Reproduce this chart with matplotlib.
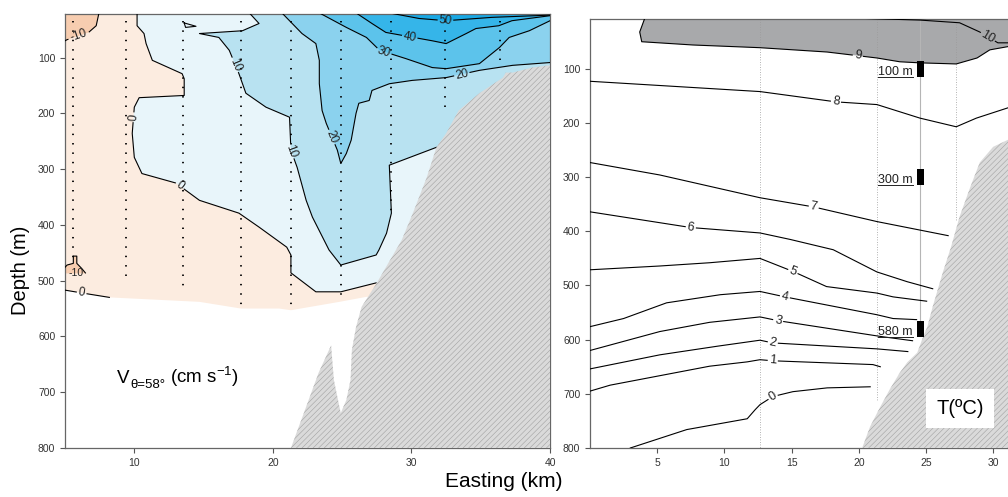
import numpy as np
import matplotlib.pyplot as plt
from matplotlib.patches import Rectangle
from matplotlib.lines import Line2D
from matplotlib.transforms import IdentityTransform

plt.rcParams['font.family'] = ['Liberation Sans', 'DejaVu Sans']
plt.rcParams['mathtext.default'] = 'regular'
plt.rcParams['hatch.linewidth'] = 0.35

# ---------------- left section: velocity (cm/s), easting km / depth m ----------------
# colored data area: lower edge of the sampled field
base_x = [5.0, 8.2, 14.7, 17.7, 20.45, 21.3, 24.8, 26.75]
base_d = [517, 530, 538, 550, 550, 553, 538, 529]

# isotach polylines
m10_top_x = [7.45, 7.25, 6.7, 5.15, 5.0]
m10_top_d = [20, 43, 55, 68, 70]
m10_blob_x = [5.0, 5.15, 5.6, 5.6, 5.85, 5.85, 6.2, 6.5, 5.8, 5.0]
m10_blob_d = [476, 472, 469, 456, 456, 469, 478, 487, 487, 487]
z0_x = [10.2, 10.2, 10.7, 10.85, 11.3, 13.45, 13.6, 13.6, 10.35, 10.0, 9.85, 10.0,
        10.55, 13.0, 14.7, 17.55, 19.0, 21.0, 21.3, 21.3, 23.1, 24.9, 27.45]
z0_d = [20, 43, 57, 75, 105, 129, 138, 168, 172, 189, 236, 279,
        308, 325, 356, 379, 404, 440, 454, 486, 520, 520, 504]
z0_bot_x = [5.0, 6.2, 8.2]
z0_bot_d = [517, 522, 530]
z0_loop_x = [13.6, 14.45, 13.7, 13.6]
z0_loop_d = [38, 44, 46, 38]
v10_x = [18.3, 19.0, 17.8, 14.7, 16.1, 16.85, 17.55, 18.05, 19.5, 21.2, 21.3, 21.75,
         22.4, 22.85, 24.05, 24.9, 27.45, 27.65, 28.2, 28.55, 28.4, 31.8]
v10_d = [20, 39, 52, 57, 64, 87, 129, 164, 189, 207, 266, 297,
         356, 386, 445, 472, 454, 445, 415, 379, 293, 261]
v20_x = [20.65, 22.1, 23.1, 23.35, 23.35, 23.55, 23.85, 24.65, 24.9, 25.3, 25.65, 26.0,
         26.2, 26.95, 27.15, 28.4, 30.05, 32.5, 34.9, 37.3, 40.0, 41.0]
v20_d = [20, 57, 75, 105, 147, 195, 218, 266, 290, 272, 248, 200,
         182, 177, 159, 147, 141, 136, 123, 114, 109, 108]
v30_x = [23.35, 25.3, 26.75, 27.7, 29.6, 31.5, 32.5, 34.9, 36.35, 37.05, 38.5, 40.0, 41.0]
v30_d = [20, 46, 64, 87, 102, 118, 120, 111, 82, 64, 52, 34, 32]
v40_x = [26.0, 27.15, 28.15, 31.5, 32.5, 33.95, 34.65, 36.3, 37.25, 40.0, 41.0]
v40_d = [20, 39, 55, 70, 75, 57, 48, 43, 34, 25, 24]
v50_x = [28.4, 30.55, 32.5, 35.8, 40.0, 41.0]
v50_d = [20, 30, 34, 28, 24, 23]

# CTD stations (dotted) and their deepest sample
stn_l_x = [5.58, 9.4, 13.5, 17.7, 21.3, 24.9, 28.5, 32.4, 36.4]
stn_l_d = [460, 504, 520, 553, 553, 537, 380, 200, 105]

# bottom topography along the section
bot_l_x = [41.0, 39.9, 38.7, 37.3, 36.8, 36.6, 34.9, 33.4, 32.5, 31.8, 31.1, 30.1, 29.3,
           27.5, 26.4, 26.0, 25.7, 25.6, 25.3, 24.9, 24.8, 24.4, 24.2, 23.3, 22.4, 21.3, 41.0]
bot_l_d = [112, 114, 118, 127, 127, 136, 164, 195, 236, 261, 315, 379, 427,
           504, 547, 583, 624, 678, 714, 737, 726, 678, 616, 665, 726, 800, 800]

# ---------------- right section: temperature (degC) ----------------
t10_x = [20.5, 24.55, 27.5, 29.0, 30.35, 31.1, 33.5]
t10_d = [7, 10, 15, 32, 52, 52, 52]
t9_x = [4.1, 3.7, 3.85, 7.65, 12.65, 17.65, 21.35, 23.05, 24.55, 27.25, 28.8, 29.75, 31.1, 33.5]
t9_d = [5, 32, 50, 56, 61, 69, 80, 87, 89, 91, 80, 65, 59, 55]
t8_x = [0, 12.65, 18.3, 21.35, 24.55, 27.25, 28.75, 31.1, 33.5]
t8_d = [123, 142, 161, 166, 191, 207, 191, 172, 165]
t7_x = [0, 5.2, 12.65, 16.65, 21.35, 26.65]
t7_d = [273, 296, 338, 355, 382, 408]
t6_x = [0, 7.5, 12.65, 14.9, 18.1, 21.35, 23.6, 25.5]
t6_d = [364, 393, 403, 415, 434, 475, 493, 506]
t5_x = [0, 5.2, 8.9, 12.65, 15.1, 17.6, 21.35, 22.55, 25.05]
t5_d = [471, 464, 458, 450, 474, 502, 514, 521, 529]
t4_x = [0, 2.5, 5.7, 9.7, 12.65, 14.5, 21.35, 22.55, 24.3]
t4_d = [576, 561, 532, 517, 511, 521, 554, 561, 563]
t3_x = [0, 5.2, 8.9, 12.65, 14.0, 21.6, 24.0]
t3_d = [620, 585, 568, 558, 565, 594, 602]
t2_x = [0, 5.2, 9.5, 12.65, 13.6, 21.35, 23.65]
t2_d = [654, 628, 612, 601, 606, 617, 622]
t1_x = [0, 1.5, 8.9, 11.7, 12.65, 13.6, 21.05, 21.6]
t1_d = [695, 684, 649, 641, 637, 639, 646, 650]
t0_x = [3.0, 7.2, 11.7, 12.3, 12.65, 13.6, 15.1, 17.65, 20.85]
t0_d = [800, 766, 746, 729, 720, 705, 696, 689, 687]

stn_r_x = [12.65, 21.35, 27.2]
stn_r_d = [800, 711, 380]

moor_x = 24.58
moor_d = [100, 300, 580]
moor_labels = ['100 m', '300 m', '580 m']

bot_r_x = [20.25, 20.85, 21.6, 22.3, 23.05, 23.6, 24.35, 24.8, 25.1, 25.5, 26.25, 26.85,
           27.5, 28.3, 29.0, 30.0, 31.1, 33.5, 33.5]
bot_r_d = [800, 760, 724, 692, 661, 642, 624, 594, 576, 539, 476, 430,
           373, 318, 273, 244, 231, 215, 800]

c_m10 = '#f7cdb0'
c_m0 = '#fcece0'
c_0 = '#e8f5fa'
c_10 = '#b8e2f1'
c_20 = '#8bd2ee'
c_30 = '#5cc3eb'
c_40 = '#35b5e9'
c_50 = '#19a8e4'
c_warm = '#a8a9ab'


def contour_line(ax, xs, ds, labels=(), fs=8.5, lw=0.8, color='k'):
    """Draw an isoline with inline labels (line broken under each label)."""
    disp = ax.transData.transform(np.column_stack([xs, ds]))
    seg = np.hypot(*np.diff(disp, axis=0).T)
    s = np.concatenate([[0], np.cumsum(seg)])
    cuts = []
    for text, lx, ly in labels:
        p = ax.transData.transform((lx, ly))
        a, ab = disp[:-1], np.diff(disp, axis=0)
        t = np.clip(((p - a) * ab).sum(1) / np.maximum((ab ** 2).sum(1), 1e-9), 0, 1)
        proj = a + ab * t[:, None]
        i = np.argmin(np.hypot(*(proj - p).T))
        s0 = s[i] + t[i] * seg[i]
        half = 2.5 + 2.6 * len(text) * fs / 7.5
        cuts.append((s0 - half, s0 + half))
        ang = np.degrees(np.arctan2(ab[i, 1], ab[i, 0]))
        if ang > 90:
            ang -= 180
        elif ang < -90:
            ang += 180
        pos = ax.transData.inverted().transform(proj[i])
        ax.text(pos[0], pos[1], text, rotation=ang, rotation_mode='anchor',
                ha='center', va='center', fontsize=fs, color='#222', zorder=4)
    cuts.sort()
    pieces, start = [], 0.0
    for u, v in cuts:
        pieces.append((start, u))
        start = v
    pieces.append((start, s[-1]))
    inv = ax.transData.inverted()
    for u, v in pieces:
        if v <= u:
            continue
        sv = np.concatenate([[u], s[(s > u) & (s < v)], [v]])
        pts = np.column_stack([np.interp(sv, s, disp[:, 0]), np.interp(sv, s, disp[:, 1])])
        dat = inv.transform(pts)
        ax.plot(dat[:, 0], dat[:, 1], color=color, lw=lw, zorder=3)


def style_axis(ax):
    for sp in ax.spines.values():
        sp.set_color('#666')
        sp.set_linewidth(0.9)
    ax.tick_params(direction='out', length=3.5, width=0.8, color='#555',
                   labelsize=7.5, labelcolor='#333')


fig = plt.figure(figsize=(10.08, 4.97), dpi=100)
axL = fig.add_axes([0.0645, 0.0986, 0.4812, 0.8732])
axR = fig.add_axes([0.5853, 0.0986, 0.44, 0.8632])

# ---------- left panel ----------
axL.set_xlim(5, 40)
axL.set_ylim(800, 22)
axL.set_xticks([10, 20, 30, 40])
axL.set_yticks(range(100, 801, 100))
style_axis(axL)

axL.fill(np.r_[5, 41, 41, base_x[::-1]], np.r_[20, 20, 529, base_d[::-1]],
         color=c_m0, lw=0, zorder=1)
axL.fill(np.r_[m10_top_x, 5], np.r_[m10_top_d, 20], color=c_m10, lw=0, zorder=1)
axL.fill(m10_blob_x, m10_blob_d, color=c_m10, lw=0, zorder=1)
for cx, cd, col, dend in [(z0_x, z0_d, c_0, 504), (v10_x, v10_d, c_10, 261),
                          (v20_x, v20_d, c_20, 108), (v30_x, v30_d, c_30, 32),
                          (v40_x, v40_d, c_40, 24), (v50_x, v50_d, c_50, 23)]:
    axL.fill(np.r_[cx, 41, 41], np.r_[cd, dend, 20], color=col, lw=0, zorder=1)

contour_line(axL, m10_top_x, m10_top_d, [('-10', 6.0, 62)])
contour_line(axL, m10_blob_x[:-1], m10_blob_d[:-1], [('-10', 5.75, 487)], fs=7.5)
contour_line(axL, z0_x, z0_d, [('0', 9.9, 207), ('0', 13.2, 333)])
contour_line(axL, z0_bot_x, z0_bot_d, [('0', 6.2, 522)])
contour_line(axL, z0_loop_x, z0_loop_d)
contour_line(axL, v10_x, v10_d, [('10', 17.2, 114), ('10', 21.5, 266)])
contour_line(axL, v20_x, v20_d, [('20', 24.2, 243), ('20', 33.65, 132)])
contour_line(axL, v30_x, v30_d, [('30', 28.0, 91)])
contour_line(axL, v40_x, v40_d, [('40', 29.85, 66)])
contour_line(axL, v50_x, v50_d, [('50', 32.45, 34)])

axL.vlines(stn_l_x, 35, stn_l_d, colors='k', lw=1.3, linestyles=(0, (0.8, 4.4)), zorder=2)
axL.fill(bot_l_x, bot_l_d, facecolor='#dadada', edgecolor='#9a9a9a', hatch='//////',
         lw=0, zorder=5)

# panel title: V with a subscript, then units, all sharing one baseline
tV = axL.text(8.75, 683, 'V', fontsize=13.5, ha='left', va='baseline')
tS = axL.annotate('θ=58°', xy=(1, 683), xycoords=(tV, 'data'), xytext=(0.5, -3.5),
                  textcoords='offset points', fontsize=9.5, ha='left', va='baseline')
axL.annotate(r' (cm s$^{-1}$)', xy=(1, 683), xycoords=(tS, 'data'), xytext=(0, 0),
             textcoords='offset points', fontsize=13.5, ha='left', va='baseline')

# ---------- right panel ----------
axR.set_xlim(0, 33)
axR.set_ylim(800, 8)
axR.set_xticks(range(5, 31, 5))
axR.set_yticks(range(100, 801, 100))
style_axis(axR)

axR.fill(np.r_[t9_x, 33.5], np.r_[t9_d, 5], color=c_warm, lw=0, zorder=1)
axR.vlines(stn_r_x, 8, stn_r_d, colors='#9a9a9a', lw=0.6, linestyles=(0, (1, 2)), zorder=2)
axR.vlines(moor_x, 8, max(moor_d), colors='#b5b5b5', lw=0.8, zorder=2)

contour_line(axR, t10_x, t10_d, [('10', 29.6, 41)], fs=9)
contour_line(axR, t9_x, t9_d, [('9', 19.95, 71)], fs=9)
contour_line(axR, t8_x, t8_d, [('8', 18.3, 161)], fs=9)
contour_line(axR, t7_x, t7_d, [('7', 16.65, 355)], fs=9)
contour_line(axR, t6_x, t6_d, [('6', 7.5, 393)], fs=9)
contour_line(axR, t5_x, t5_d, [('5', 15.1, 474)], fs=9)
contour_line(axR, t4_x, t4_d, [('4', 14.5, 521)], fs=9)
contour_line(axR, t3_x, t3_d, [('3', 14.0, 565)], fs=9)
contour_line(axR, t2_x, t2_d, [('2', 13.6, 606)], fs=9)
contour_line(axR, t1_x, t1_d, [('1', 13.6, 639)], fs=9)
contour_line(axR, t0_x, t0_d, [('0', 13.6, 705)], fs=9)

axR.fill(bot_r_x, bot_r_d, facecolor='#dadada', edgecolor='#9a9a9a', hatch='//////',
         lw=0, zorder=5)

moor_texts = []
for d, lab in zip(moor_d, moor_labels):
    axR.add_patch(Rectangle((moor_x - 0.26, d - 15), 0.52, 30, fc='k', ec='none', zorder=6))
    moor_texts.append(axR.text(moor_x - 0.55, d + 6, lab, ha='right', va='center',
                               fontsize=9, color='#222', zorder=6))

axR.text(27.55, 727, 'T(ºC)', fontsize=14.5, ha='center', va='center', zorder=7,
         bbox=dict(boxstyle='square,pad=0.5', fc='white', ec='none'))

fig.text(0.02, 0.457, 'Depth (m)', rotation=90, ha='center', va='center', fontsize=14.5)
fig.text(0.5, 0.032, 'Easting (km)', ha='center', va='center', fontsize=15)

# underline the instrument depth labels
fig.canvas.draw()
for t in moor_texts:
    bb = t.get_window_extent()
    fig.add_artist(Line2D([bb.x0, bb.x1], [bb.y0 + 1.5, bb.y0 + 1.5], color='#222',
                          lw=0.7, transform=IdentityTransform()))

fig.savefig('out.png', dpi=100)
